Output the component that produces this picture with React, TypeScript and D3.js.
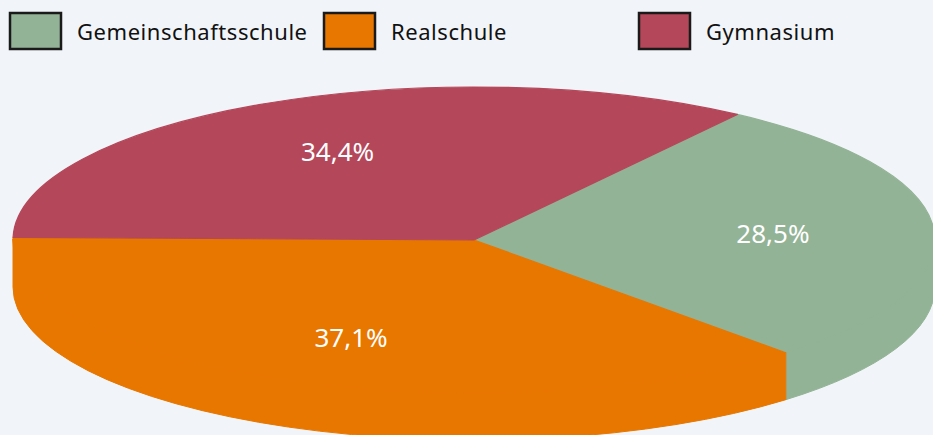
import React from "react";
import * as d3 from "d3";

const categories = ["Gemeinschaftsschule", "Realschule", "Gymnasium"];
const values = [28.5, 37.1, 34.4];
const labels = ["28,5%", "37,1%", "34,4%"];
const colors = ["#93B396", "#E87700", "#B5475A"];

const W = 933;
const H = 435;
const cx = 474;
const cy = 240;
const rx = 461;
const ry = 153;
const depth = 47;
const startDeg = -55.16;

function pt(t: number, dy = 0): [number, number] {
  return [cx + rx * Math.cos(t), cy + ry * Math.sin(t) + dy];
}

function topPath(a0: number, a1: number) {
  const p0 = pt(a0);
  const p1 = pt(a1);
  const large = a1 - a0 > Math.PI ? 1 : 0;
  return `M${cx},${cy}L${p0[0]},${p0[1]}A${rx},${ry} 0 ${large} 1 ${p1[0]},${p1[1]}Z`;
}

function sidePath(a0: number, a1: number) {
  const s = Math.max(a0, 0);
  const e = Math.min(a1, Math.PI);
  if (e <= s) return null;
  const p0 = pt(s, -1);
  const p1 = pt(e, -1);
  const b1 = pt(e, depth);
  const b0 = pt(s, depth);
  return `M${p0[0]},${p0[1]}A${rx},${ry} 0 0 1 ${p1[0]},${p1[1]}L${b1[0]},${b1[1]}A${rx},${ry} 0 0 0 ${b0[0]},${b0[1]}Z`;
}

export default function App() {
  const pie = d3
    .pie<number>()
    .sort(null)
    .startAngle(0)
    .endAngle(2 * Math.PI);
  const arcs = pie(values);
  const off = (startDeg * Math.PI) / 180;
  const slices = arcs.map((a, i) => ({
    i,
    a0: a.startAngle + off,
    a1: a.endAngle + off,
  }));

  const legendX = [9, 323, 638];

  return (
    <svg
      width={W}
      height={H}
      style={{ position: "absolute", left: 0, top: 0, background: "#F1F5F9" }}
      fontFamily="'Noto Sans', sans-serif"
    >
      <rect x={0} y={0} width={W} height={H} fill="#F1F5F9" />
      {slices.map((s) => {
        const d = sidePath(s.a0, s.a1);
        return d ? (
          <path
            key={"side" + s.i}
            d={d}
            fill={colors[s.i]}
            stroke={colors[s.i]}
            strokeWidth={1}
          />
        ) : null;
      })}
      {slices.map((s) => (
        <path
          key={"top" + s.i}
          d={topPath(s.a0, s.a1)}
          fill={colors[s.i]}
          stroke={colors[s.i]}
          strokeWidth={1.2}
          strokeLinejoin="round"
        />
      ))}
      {slices.map((s) => {
        const m = (s.a0 + s.a1) / 2;
        const k = 0.65;
        const x = cx + rx * k * Math.cos(m);
        const y = cy + ry * k * Math.sin(m) + Math.max(0, Math.sin(m)) * 7;
        return (
          <text
            key={"lbl" + s.i}
            x={x}
            y={y + 9.5}
            textAnchor="middle"
            fill="#ffffff"
            fontSize={26}
          >
            {labels[s.i]}
          </text>
        );
      })}
      {categories.map((c, i) => (
        <g key={"leg" + i}>
          <rect
            x={legendX[i] + 1}
            y={13}
            width={51}
            height={36}
            fill={colors[i]}
            stroke="#1a1a1a"
            strokeWidth={2.5}
          />
          <text
            x={legendX[i] + 68}
            y={39.5}
            fontSize={22}
            letterSpacing={0.55}
            fill="#111"
          >
            {c}
          </text>
        </g>
      ))}
    </svg>
  );
}
